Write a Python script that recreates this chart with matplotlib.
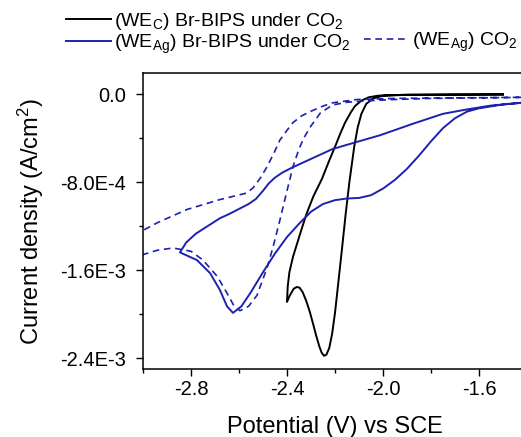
import matplotlib
matplotlib.use("Agg")
import matplotlib.pyplot as plt
from matplotlib.lines import Line2D
from matplotlib.ticker import FixedLocator, MultipleLocator
import numpy as np

plt.rcParams['font.family'] = ['Liberation Sans', 'DejaVu Sans']
plt.rcParams['mathtext.fontset'] = 'custom'
plt.rcParams['mathtext.rm'] = 'Liberation Sans'
plt.rcParams['mathtext.it'] = 'Liberation Sans:italic'

# ---- data (potential in V vs SCE, current density in mA/cm2 -> scaled to A/cm2 below)
# WE_C, Br-BIPS under CO2 (forward sweep then reverse)
black_v = [-1.50, -1.70, -1.90, -2.00, -2.04, -2.07, -2.09, -2.105, -2.12, -2.14,
           -2.155, -2.17, -2.185, -2.20, -2.212, -2.224, -2.236, -2.246, -2.256, -2.266,
           -2.278, -2.29, -2.305, -2.32, -2.335, -2.348, -2.36, -2.372, -2.388, -2.40,
           -2.397, -2.39, -2.375, -2.358, -2.338, -2.317, -2.29, -2.254, -2.225, -2.20,
           -2.178, -2.158, -2.135, -2.117, -2.09, -2.06, -2.02, -1.90, -1.70, -1.50]
black_j = [-0.005, -0.006, -0.008, -0.015, -0.04, -0.09, -0.18, -0.30, -0.48, -0.80,
           -1.08, -1.39, -1.69, -1.99, -2.18, -2.31, -2.37, -2.38, -2.35, -2.29,
           -2.20, -2.10, -1.98, -1.88, -1.80, -1.76, -1.755, -1.77, -1.83, -1.89,
           -1.75, -1.62, -1.48, -1.36, -1.22, -1.08, -0.93, -0.77, -0.61, -0.48,
           -0.36, -0.26, -0.17, -0.11, -0.06, -0.03, -0.015, -0.006, -0.004, -0.003]

# WE_Ag, Br-BIPS under CO2
blue_v = [-1.40, -1.50, -1.60, -1.65, -1.70, -1.75, -1.80, -1.85, -1.90, -1.95,
          -2.00, -2.05, -2.10, -2.15, -2.20, -2.25, -2.30, -2.35, -2.40, -2.45,
          -2.50, -2.55, -2.59, -2.625, -2.65, -2.68, -2.72, -2.775, -2.846,
          -2.82, -2.78, -2.73, -2.68, -2.64, -2.60, -2.56, -2.53, -2.50, -2.475,
          -2.45, -2.42, -2.375, -2.29, -2.21, -2.10, -2.0125, -1.875, -1.75, -1.65,
          -1.55, -1.40]
blue_j = [-0.075, -0.095, -0.13, -0.16, -0.22, -0.31, -0.43, -0.56, -0.68, -0.78,
          -0.86, -0.92, -0.945, -0.95, -0.965, -1.00, -1.07, -1.18, -1.30, -1.45,
          -1.62, -1.80, -1.93, -1.99, -1.93, -1.78, -1.63, -1.51, -1.44,
          -1.35, -1.27, -1.20, -1.13, -1.09, -1.045, -1.00, -0.955, -0.88, -0.81,
          -0.76, -0.715, -0.665, -0.58, -0.50, -0.43, -0.375, -0.27, -0.18, -0.14,
          -0.105, -0.075]

# WE_Ag, CO2 only
dash_v = [-1.40, -1.60, -1.80, -1.95, -2.05, -2.15, -2.21, -2.26, -2.30, -2.33,
          -2.35, -2.375, -2.40, -2.43, -2.458, -2.483, -2.525, -2.56, -2.596, -2.62,
          -2.65, -2.69, -2.75, -2.80, -2.875, -2.94, -3.00, -3.05,
          -3.05, -3.00, -2.94, -2.817, -2.68, -2.567, -2.54, -2.51, -2.483, -2.455,
          -2.43, -2.40, -2.375, -2.34, -2.304, -2.25, -2.21, -2.108, -1.95, -1.70, -1.40]
dash_j = [-0.03, -0.035, -0.04, -0.05, -0.06, -0.075, -0.10, -0.17, -0.29, -0.40,
          -0.50, -0.66, -0.88, -1.15, -1.39, -1.58, -1.83, -1.93, -1.97, -1.93,
          -1.81, -1.66, -1.51, -1.43, -1.40, -1.42, -1.46, -1.50,
          -1.28, -1.24, -1.17, -1.05, -0.96, -0.90, -0.85, -0.76, -0.66, -0.54,
          -0.42, -0.33, -0.26, -0.20, -0.16, -0.11, -0.08, -0.05, -0.04, -0.035, -0.03]

y_ticks = [0.0, -8.0e-4, -1.6e-3, -2.4e-3]
y_ticklabels = ['0.0', '-8.0E-4', '-1.6E-3', '-2.4E-3']
x_ticks = [-2.8, -2.4, -2.0, -1.6]
x_ticklabels = ['-2.8', '-2.4', '-2.0', '-1.6']

labels = [r'(WE$_{\mathrm{C}}$) Br-BIPS under CO$_{\mathrm{2}}$',
          r'(WE$_{\mathrm{Ag}}$) Br-BIPS under CO$_{\mathrm{2}}$',
          r'(WE$_{\mathrm{Ag}}$) CO$_{\mathrm{2}}$']

blue = '#1c22ad'
dash_style = (0, (4, 2.8))

fig = plt.figure(figsize=(5.21, 4.37), dpi=100)
ax = fig.add_axes([143 / 521, 1 - 369 / 437, (527 - 143) / 521, (369 - 73) / 437])

ax.plot(black_v, np.array(black_j) * 1e-3, color='black', lw=1.4)
ax.plot(blue_v, np.array(blue_j) * 1e-3, color=blue, lw=1.4)
ax.plot(dash_v, np.array(dash_j) * 1e-3, color=blue, lw=1.2, linestyle=dash_style)

ax.set_xlim(-3.0, -1.4)
ax.set_ylim(-2.5e-3, 1.91e-4)

ax.xaxis.set_major_locator(FixedLocator(x_ticks))
ax.set_xticklabels(x_ticklabels)
ax.xaxis.set_minor_locator(MultipleLocator(0.2))
ax.yaxis.set_major_locator(FixedLocator(y_ticks))
ax.set_yticklabels(y_ticklabels)
ax.yaxis.set_minor_locator(MultipleLocator(4e-4))

ax.tick_params(which='major', direction='out', length=5, width=1, labelsize=14.5)
ax.tick_params(axis='x', which='major', pad=3)
ax.tick_params(axis='y', which='major', pad=7.5)
ax.tick_params(which='minor', direction='out', length=3, width=1)
ax.spines['right'].set_visible(False)
for s in ['left', 'bottom', 'top']:
    ax.spines[s].set_linewidth(1.1)

ax.set_xlabel('Potential (V) vs SCE', fontsize=17, labelpad=12)
ax.set_ylabel(r'Current density (A/cm$^{\mathrm{2}}$)', fontsize=17, labelpad=10)

handles = [Line2D([], [], color='black', lw=1.4),
           Line2D([], [], color=blue, lw=1.4),
           Line2D([], [], color='none'),
           Line2D([], [], color=blue, lw=1.2, linestyle=dash_style)]
fig.legend(handles, [labels[0], labels[1], '', labels[2]], ncol=2,
           loc='upper left', bbox_to_anchor=(66 / 521, 1 - 11 / 437),
           frameon=False, fontsize=14, handlelength=2.3, handletextpad=0.15,
           labelspacing=0.02, columnspacing=0.7, borderpad=0, borderaxespad=0)

fig.savefig('out.png', dpi=100)
